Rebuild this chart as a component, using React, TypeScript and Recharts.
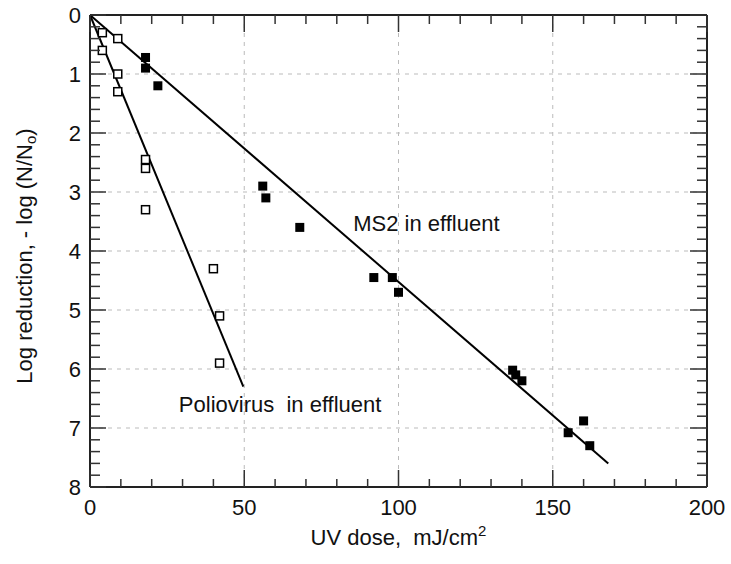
import { ReferenceDot, ReferenceLine, Scatter, ScatterChart, XAxis, YAxis, Label } from "recharts"

// open squares: poliovirus in effluent
const polioDose = [4, 9, 4, 9, 9, 18, 18, 18, 40, 42, 42]
const polioLog = [0.3, 0.4, 0.6, 1.0, 1.3, 2.45, 2.6, 3.3, 4.3, 5.1, 5.9]

// filled squares: MS2 in effluent
const ms2Dose = [18, 18, 22, 56, 57, 68, 92, 98, 100, 137, 138, 140, 155, 160, 162]
const ms2Log = [0.72, 0.9, 1.2, 2.9, 3.1, 3.6, 4.45, 4.45, 4.7, 6.02, 6.1, 6.2, 7.08, 6.88, 7.3]

// fitted lines, end points
const polioFit = [
  { x: 0, y: 0 },
  { x: 49.7, y: 6.3 },
]
const ms2Fit = [
  { x: 0, y: 0 },
  { x: 168, y: 7.6 },
]

const xMajor = [0, 50, 100, 150, 200]
const yMajor = [0, 1, 2, 3, 4, 5, 6, 7, 8]
const xTicks = Array.from({ length: 21 }, (_, i) => i * 10)
const yTicks = Array.from({ length: 41 }, (_, i) => Math.round(i * 2) / 10)
const xGrid = [50, 100, 150]
const yGrid = [1, 2, 3, 4, 5, 6, 7]

const notes = [
  { x: 85.3, y: 3.53, text: "MS2 in effluent" },
  { x: 28.8, y: 6.59, text: "Poliovirus  in effluent" },
]

const polioData = polioDose.map((x, i) => ({ x, y: polioLog[i] }))
const ms2Data = ms2Dose.map((x, i) => ({ x, y: ms2Log[i] }))

const FONT = "Liberation Sans, Arial, sans-serif"
const isMajor = (v: number, list: number[]) => list.some((m) => Math.abs(m - v) < 1e-6)

const Square = ({ cx, cy, filled }: any) => {
  if (cx == null || cy == null) return <g />
  return filled ? (
    <rect x={cx - 4.5} y={cy - 4.5} width={9} height={9} fill="#000" />
  ) : (
    <rect x={cx - 4} y={cy - 4} width={8} height={8} fill="#fff" stroke="#000" strokeWidth={1.5} />
  )
}

const BottomTick = ({ x, y, payload }: any) => {
  const major = isMajor(payload.value, xMajor)
  return (
    <g>
      <line x1={x} x2={x} y1={y} y2={y - (major ? 17 : 8)} stroke="#333" strokeWidth={1.5} />
      {major && (
        <text x={x} y={y + 28} textAnchor="middle" fontSize={22} fontFamily={FONT} fill="#111">
          {payload.value}
        </text>
      )}
    </g>
  )
}

const TopTick = ({ x, y, payload }: any) => {
  const major = isMajor(payload.value, xMajor)
  return <line x1={x} x2={x} y1={y} y2={y + (major ? 17 : 9)} stroke="#333" strokeWidth={1.5} />
}

const LeftTick = ({ x, y, payload }: any) => {
  const major = isMajor(payload.value, yMajor)
  return (
    <g>
      <line x1={x} x2={x + (major ? 16 : 10)} y1={y} y2={y} stroke="#333" strokeWidth={1.5} />
      {major && (
        <text x={x - 9} y={y + 8} textAnchor="end" fontSize={22} fontFamily={FONT} fill="#111">
          {payload.value}
        </text>
      )}
    </g>
  )
}

const RightTick = ({ x, y, payload }: any) => {
  const major = isMajor(payload.value, yMajor)
  return <line x1={x} x2={x - (major ? 17 : 10)} y1={y} y2={y} stroke="#333" strokeWidth={1.5} />
}

const NoteText = ({ cx, cy, text }: any) => (
  <text x={cx} y={cy + 8} fontSize={22} fontFamily={FONT} fill="#111" style={{ whiteSpace: "pre" }}>
    {text}
  </text>
)

export default function App() {
  return (
    <div style={{ position: "absolute", left: 0, top: 0, background: "#fff" }}>
      <ScatterChart width={731} height={564} margin={{ top: 14, right: 23, bottom: 0, left: 0 }}>
        <XAxis
          xAxisId="bottom"
          type="number"
          dataKey="x"
          domain={[0, 200]}
          ticks={xTicks}
          interval={0}
          height={77}
          tickSize={0}
          tickMargin={0}
          tickLine={false}
          tick={<BottomTick />}
          axisLine={{ stroke: "#222", strokeWidth: 2 }}
        >
          <Label
            content={({ viewBox }: any) => (
              <text
                x={viewBox.x + viewBox.width / 2}
                y={545}
                textAnchor="middle"
                fontSize={22}
                fontFamily={FONT}
                fill="#111"
                style={{ whiteSpace: "pre" }}
              >
                UV dose,  mJ/cm
                <tspan fontSize={15} dy={-9}>2</tspan>
              </text>
            )}
          />
        </XAxis>
        <XAxis
          xAxisId="top"
          orientation="top"
          type="number"
          dataKey="x"
          domain={[0, 200]}
          ticks={xTicks}
          interval={0}
          height={1}
          tickSize={0}
          tickMargin={0}
          tickLine={false}
          tick={<TopTick />}
          axisLine={{ stroke: "#222", strokeWidth: 2 }}
        />
        <YAxis
          yAxisId="left"
          type="number"
          dataKey="y"
          domain={[0, 8]}
          reversed
          ticks={yTicks}
          interval={0}
          width={90}
          tickSize={0}
          tickMargin={0}
          tickLine={false}
          tick={<LeftTick />}
          axisLine={{ stroke: "#222", strokeWidth: 2 }}
        >
          <Label
            content={() => (
              <text
                x={24}
                y={256}
                transform="rotate(-90, 24, 256)"
                textAnchor="middle"
                dominantBaseline="central"
                fontSize={22}
                fontFamily={FONT}
                fill="#111"
              >
                Log reduction, - log (N/N
                <tspan fontSize={15} dy={6}>o</tspan>
                <tspan dy={-6}>)</tspan>
              </text>
            )}
          />
        </YAxis>
        <YAxis
          yAxisId="right"
          orientation="right"
          type="number"
          dataKey="y"
          domain={[0, 8]}
          reversed
          ticks={yTicks}
          interval={0}
          width={1}
          tickSize={0}
          tickMargin={0}
          tickLine={false}
          tick={<RightTick />}
          axisLine={{ stroke: "#222", strokeWidth: 2 }}
        />

        {xGrid.map((v) => (
          <ReferenceLine
            key={`gx${v}`}
            xAxisId="bottom"
            yAxisId="left"
            x={v}
            stroke="#bbb"
            strokeDasharray="4 5"
          />
        ))}
        {yGrid.map((v) => (
          <ReferenceLine
            key={`gy${v}`}
            xAxisId="bottom"
            yAxisId="left"
            y={v}
            stroke="#bbb"
            strokeDasharray="4 5"
          />
        ))}

        {/* fit lines ride on the top/right axes (same domains) so those axes get drawn */}
        <Scatter
          xAxisId="top"
          yAxisId="right"
          data={polioFit}
          line={{ stroke: "#000", strokeWidth: 2 }}
          shape={() => <g />}
          isAnimationActive={false}
        />
        <Scatter
          xAxisId="top"
          yAxisId="right"
          data={ms2Fit}
          line={{ stroke: "#000", strokeWidth: 2 }}
          shape={() => <g />}
          isAnimationActive={false}
        />
        <Scatter
          xAxisId="bottom"
          yAxisId="left"
          data={polioData}
          shape={(p: any) => <Square {...p} filled={false} />}
          isAnimationActive={false}
        />
        <Scatter
          xAxisId="bottom"
          yAxisId="left"
          data={ms2Data}
          shape={(p: any) => <Square {...p} filled />}
          isAnimationActive={false}
        />

        {notes.map((n) => (
          <ReferenceDot
            key={n.text}
            xAxisId="bottom"
            yAxisId="left"
            x={n.x}
            y={n.y}
            r={0}
            shape={(p: any) => <NoteText {...p} text={n.text} />}
          />
        ))}
      </ScatterChart>
    </div>
  )
}
